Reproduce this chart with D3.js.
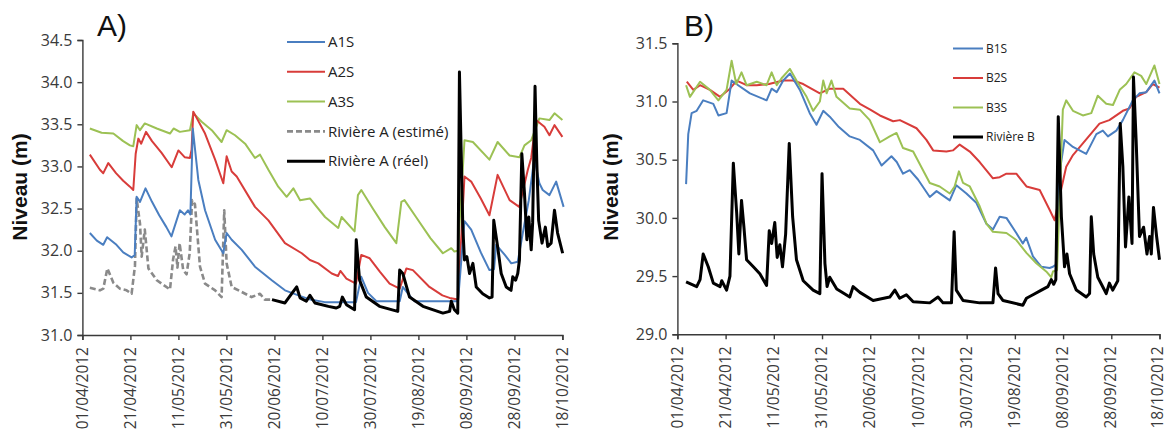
<!DOCTYPE html>
<html>
<head>
<meta charset="utf-8">
<script src="https://cdn.jsdelivr.net/npm/d3@7"></script>
<style>
  html, body { margin: 0; padding: 0; background: #fff; }
  svg { display: block; }
  .tick text { font-family: "Open Sans", sans-serif; fill: #3a3a3a; }
</style>
</head>
<body>
<svg id="chart" width="1167" height="434"></svg>
<script>
// ---------- DATA ----------
const startDate = "01/04/2012";
const tickLabels = ["01/04/2012","21/04/2012","11/05/2012","31/05/2012","20/06/2012",
  "10/07/2012","30/07/2012","19/08/2012","08/09/2012","28/09/2012","18/10/2012"];
const yTicksA = [31.0, 31.5, 32.0, 32.5, 33.0, 33.5, 34.0, 34.5];
const yTicksB = [29.0, 29.5, 30.0, 30.5, 31.0, 31.5];

// series values as [day since 01/04/2012, level (m)]
const A1S = [[3.1,32.21],[6,32.12],[8.7,32.07],[10.3,32.16],[14.2,32.07],[17,31.98],[20.5,31.92],[21.8,31.95],[22.6,32.64],[24,32.58],[26.3,32.74],[29,32.58],[32,32.42],[35,32.28],[37.1,32.17],[40.6,32.48],[42.6,32.43],[44,32.48],[45,32.43],[46,33.45],[48.3,32.84],[51.1,32.48],[55.3,32.13],[58.7,31.97],[60.1,32.21],[62.2,32.13],[66.4,32.01],[71.9,31.81],[78.9,31.65],[84.4,31.53],[90,31.47],[95,31.42],[101,31.39],[114,31.39],[116.2,31.69],[119,31.5],[122.5,31.4],[132.2,31.4],[133.5,31.57],[136,31.48],[138.4,31.4],[156.5,31.4],[159.2,32.35],[162,32.25],[166,31.98],[169.6,31.77],[171.5,31.78],[172.4,32.07],[176,31.95],[178.7,31.85],[181.4,31.87],[183.5,32.21],[186,32.6],[188.3,33.1],[190.4,32.8],[191.8,32.72],[194.6,32.66],[197.4,32.82],[200.5,32.52]];
const A2S = [[3.1,33.14],[7.3,32.96],[8.7,32.92],[10.8,33.04],[14,32.92],[17,32.83],[19.8,32.76],[21.2,32.72],[22.2,33.15],[23.3,33.33],[24.5,33.27],[26.5,33.41],[29,33.3],[33,33.16],[37.2,32.99],[40,33.19],[42.6,33.11],[44.8,33.1],[45.5,33.2],[46.2,33.65],[51.1,33.39],[55.3,33.08],[58.7,32.8],[60.1,33.12],[62.2,32.94],[64.3,32.88],[71.9,32.52],[77.5,32.36],[84.4,32.09],[91.4,31.97],[94.8,31.89],[98.3,31.85],[103.9,31.73],[106.5,31.7],[107.5,31.76],[110,31.67],[114,31.61],[116.2,31.95],[119.7,31.91],[124,31.75],[128,31.61],[132.2,31.55],[135,31.79],[137.7,31.77],[144.6,31.57],[150,31.47],[153,31.44],[156.5,31.42],[159.2,32.88],[162,32.82],[166,32.62],[169.6,32.42],[173,32.9],[178,32.6],[182,32.52],[185.6,32.96],[187,33.1],[189,33.55],[192.5,33.47],[194.6,33.37],[196.7,33.49],[200,33.35]];
const A3S = [[3.1,33.45],[8,33.4],[12.9,33.39],[17,33.3],[19.8,33.25],[21.2,33.24],[22.6,33.49],[24,33.43],[26,33.51],[31,33.45],[36.5,33.39],[38,33.45],[40.6,33.41],[44.8,33.43],[46.2,33.63],[49.7,33.53],[53.9,33.43],[58,33.29],[60.1,33.43],[63.6,33.37],[67.8,33.27],[71.9,33.1],[74,33.14],[77.5,32.96],[81.6,32.76],[85.1,32.64],[87.9,32.74],[90.7,32.6],[94.8,32.62],[101.1,32.4],[106.6,32.27],[108,32.4],[113.4,32.23],[114.8,32.66],[116.2,32.72],[121,32.5],[126,32.28],[130.8,32.09],[132.9,32.58],[134.2,32.6],[139,32.4],[145,32.15],[150.2,31.97],[153.7,32.03],[155,31.99],[156.5,32.0],[159.2,33.31],[162.7,33.29],[169.6,33.08],[173,33.29],[178,33.13],[182.1,33.11],[184.2,33.25],[187,33.31],[190.4,33.57],[194.6,33.55],[196.7,33.63],[200,33.55]];
const riviereAEstime = [[3.1,31.56],[7.3,31.53],[8.7,31.55],[10.4,31.79],[12.9,31.62],[15.6,31.55],[18.4,31.53],[20.5,31.49],[21.9,31.82],[22.6,32.62],[24,32.32],[24.7,31.93],[26,32.25],[27.5,31.79],[31,31.65],[36.5,31.54],[37.8,31.9],[38.8,32.05],[39.6,31.8],[40.5,32.09],[42,31.77],[43.4,31.72],[44.7,31.97],[45.7,32.6],[46.9,32.55],[49,31.81],[51.1,31.61],[55.3,31.53],[58,31.45],[59.1,32.48],[60.1,31.85],[62.2,31.57],[66.4,31.51],[70.5,31.45],[74,31.49],[76,31.42],[79,31.42]];
const riviereAReel = [[79,31.42],[84.4,31.38],[87.2,31.49],[89.3,31.57],[90.7,31.44],[93.3,31.4],[94.8,31.47],[96.9,31.38],[102.5,31.34],[105.8,31.32],[107.2,31.34],[108.3,31.45],[110,31.36],[113.4,31.3],[114.1,32.13],[115.5,31.65],[118.3,31.45],[123.8,31.34],[131.4,31.28],[132.2,31.77],[133.5,31.73],[136.3,31.45],[141.9,31.34],[150.2,31.26],[153,31.28],[153.7,31.4],[155,31.3],[156.4,31.26],[157.1,34.12],[158.5,32.28],[159.2,31.89],[160.2,31.93],[161.3,31.73],[162.7,31.85],[164.1,31.57],[166.8,31.49],[169.6,31.44],[170.7,31.45],[171.4,32.36],[173,32.05],[174.5,31.73],[176.6,31.57],[178.6,31.53],[179.3,31.69],[180.5,31.65],[181.4,31.73],[182.1,31.89],[183.1,33.15],[184.2,32.68],[185.2,32.13],[186,32.4],[187,32.01],[187.6,32.33],[188.6,33.95],[189.3,33.08],[190.1,32.36],[191.5,32.09],[192.9,32.28],[193.9,32.05],[195.3,32.09],[196.7,32.48],[198,32.21],[200.1,31.97]];

const B1S = [[3.6,30.29],[4.5,30.72],[5.9,30.9],[8,30.92],[10.7,31.01],[14.9,30.98],[17,30.88],[20.4,30.9],[22.5,31.18],[25.2,31.14],[30.1,31.07],[37,31.01],[39.1,31.11],[41.2,31.08],[43.9,31.18],[46.7,31.24],[50.8,31.1],[54.9,30.9],[57.7,30.8],[60.5,30.92],[63.2,30.87],[67,30.78],[71.5,30.7],[75.7,30.67],[81.2,30.58],[84.7,30.45],[88.8,30.53],[91,30.48],[93.6,30.38],[96.4,30.41],[99.8,30.33],[104.7,30.18],[107.5,30.23],[113,30.15],[115.7,30.28],[119.9,30.21],[124,30.13],[128.2,29.95],[130.9,29.9],[133.7,30.01],[136.5,30.0],[140.6,29.87],[143.3,29.78],[144.7,29.83],[147.5,29.67],[151,29.58],[154.4,29.57],[155.8,29.58],[157,29.6],[158.5,30.38],[160.6,30.67],[164.1,30.61],[169.6,30.55],[173.8,30.72],[176.5,30.75],[178.6,30.7],[182.1,30.75],[184.8,30.84],[188.9,31.01],[191.7,31.07],[194.5,31.08],[197.9,31.18],[200,31.07]];
const B2S = [[3.9,31.17],[6.6,31.1],[9.4,31.14],[13.5,31.1],[17.7,31.04],[21.8,31.11],[24.6,31.18],[28.7,31.14],[32.9,31.14],[38,31.15],[43.9,31.18],[48,31.18],[52.2,31.15],[59.1,31.07],[63.2,31.11],[68.8,31.11],[75.7,30.98],[80,30.93],[84,30.88],[89.5,30.83],[92.3,30.84],[99.2,30.77],[103.3,30.67],[106.1,30.58],[111.6,30.57],[114.3,30.58],[117.1,30.63],[121.3,30.57],[125.4,30.48],[130.9,30.34],[133.7,30.35],[136.5,30.38],[140.6,30.38],[144.8,30.27],[150.3,30.24],[154.4,30.07],[156.5,29.98],[158.5,30.18],[161.3,30.44],[164.1,30.54],[168.2,30.64],[175.1,30.81],[179.2,30.84],[184.8,30.92],[187.5,30.94],[190.3,31.04],[194.5,31.08],[197.2,31.15],[200,31.12]];
const B3S = [[3.6,31.14],[5.2,31.04],[9.4,31.17],[13.5,31.1],[17,31.01],[20.4,31.1],[22.5,31.35],[24.4,31.15],[26.6,31.25],[28.7,31.14],[32.9,31.17],[37,31.14],[39.1,31.25],[41.2,31.14],[43.2,31.2],[46.7,31.28],[49.4,31.18],[53.6,31.04],[56.3,30.92],[59.1,31.0],[60.5,31.18],[61.9,31.07],[63.9,31.18],[66,31.04],[71.5,30.94],[75.7,30.93],[79.8,30.84],[84,30.65],[88.1,30.7],[90.9,30.73],[93.6,30.6],[97.8,30.57],[101.9,30.41],[104.7,30.3],[108.8,30.27],[113,30.21],[115,30.27],[116.8,30.4],[118.5,30.3],[121.3,30.27],[125.4,30.1],[128.2,29.95],[130.9,29.88],[136.5,29.87],[140.6,29.81],[144.8,29.7],[148.9,29.61],[153,29.54],[155.1,29.49],[155.8,29.54],[157.5,29.55],[159.9,30.93],[161.3,31.01],[164.1,30.92],[168.2,30.88],[171.7,30.9],[174.4,31.05],[177.9,30.98],[180.7,30.97],[183.5,31.1],[186.2,31.15],[189.6,31.25],[192.4,31.22],[194.5,31.15],[197.9,31.31],[200,31.15]];
const riviereB = [[3.6,29.45],[8,29.41],[9.4,29.47],[10.7,29.69],[12.8,29.58],[14.9,29.44],[17.7,29.41],[18.4,29.46],[20.4,29.38],[21.8,29.5],[23.2,30.47],[24.6,30.04],[25.5,29.69],[26.6,30.15],[27.6,29.92],[28.7,29.64],[31.5,29.58],[34.2,29.52],[37,29.42],[38.1,29.89],[39.1,29.78],[40.4,29.96],[41.4,29.66],[42.5,29.77],[43.6,29.58],[44.9,29.86],[46.4,30.64],[47.8,30.01],[49.4,29.64],[52.2,29.46],[56.3,29.38],[59.1,29.35],[60,30.38],[61.2,29.61],[62.1,29.41],[63.2,29.49],[66.1,29.39],[71.5,29.32],[72.9,29.41],[75.7,29.36],[81.2,29.29],[88.1,29.32],[90.2,29.38],[92.2,29.31],[95,29.34],[97.8,29.28],[104.7,29.27],[108.1,29.32],[110.2,29.27],[113.7,29.27],[114.8,29.88],[115.7,29.38],[118.5,29.29],[125.4,29.27],[130.9,29.27],[132,29.57],[133,29.35],[135.1,29.29],[143.3,29.25],[144.8,29.31],[147.5,29.34],[151,29.38],[153.7,29.41],[155.1,29.47],[156.1,29.43],[157,29.47],[158,30.87],[159.3,30.01],[160.6,29.58],[161.6,29.69],[162.7,29.52],[165.5,29.38],[169.6,29.32],[171,29.35],[171.7,30.01],[172.7,29.69],[174.4,29.49],[177.9,29.35],[179.2,29.44],[180.6,29.38],[182.7,29.46],[183.7,30.81],[184.8,30.44],[185.9,29.75],[187.3,30.18],[188.6,29.78],[189.2,31.21],[190.3,30.67],[191.7,29.84],[193.4,29.92],[194.8,29.69],[195.9,29.84],[196.6,29.69],[197.5,30.09],[198.8,29.84],[200,29.64]];

const legendA = ["A1S","A2S","A3S","Rivière A (estimé)","Rivière A (réel)"];
const legendB = ["B1S","B2S","B3S","Rivière B"];

// ---------- STYLE ----------
const BLUE = "#4a7ec0", RED = "#d83c3a", GREEN = "#9cc154", GREY = "#8a8a8a", BLACK = "#000";

const parse = d3.utcParse("%d/%m/%Y");
const t0 = parse(startDate);
const toDate = d => new Date(t0.getTime() + d * 864e5);
const tickDates = tickLabels.map(parse);
const fmt = d3.utcFormat("%d/%m/%Y");

const svg = d3.select("#chart");

function panel(cfg) {
  const x = d3.scaleUtc().domain([tickDates[0], tickDates[tickDates.length - 1]]).range(cfg.xr);
  const y = d3.scaleLinear().domain(cfg.yd).range(cfg.yr);
  const g = svg.append("g");

  const ya = g.append("g").attr("transform", `translate(${cfg.xr[0]},0)`)
    .call(d3.axisLeft(y).tickValues(cfg.yTicks).tickFormat(d3.format(".1f")).tickSizeOuter(0).tickSize(5).tickPadding(5));
  ya.selectAll("text").style("font-size", "16px");
  const xa = g.append("g").attr("transform", `translate(0,${cfg.yr[0]})`)
    .call(d3.axisBottom(x).tickValues(tickDates).tickFormat(fmt).tickSizeOuter(0).tickSize(5));
  const n = tickDates.length;
  xa.selectAll("text").style("font-size", "15.5px")
    .attr("transform", "rotate(-90)").attr("x", -12).attr("y", 0)
    .attr("dy", (d, i) => (cfg.lastTight && i === n - 1) ? "0.18em" : "0.3em")
    .style("text-anchor", "end");
  g.selectAll(".domain, .tick line").attr("stroke", "#3a3a3a").attr("stroke-width", 1.4);

  const line = d3.line().x(d => x(toDate(d[0]))).y(d => y(d[1]));
  cfg.series.forEach(s => {
    g.append("path").datum(s.data).attr("d", line)
      .attr("fill", "none").attr("stroke", s.color).attr("stroke-width", s.w)
      .attr("stroke-dasharray", s.dash || null).attr("stroke-linejoin", "round");
  });

  g.append("text").attr("transform", `translate(${cfg.labelX},187) rotate(-90)`)
    .attr("text-anchor", "middle").style("font-family", "'Liberation Sans', Arial, sans-serif")
    .style("font-weight", "bold").style("font-size", "21px").attr("fill", "#111").text("Niveau (m)");
  g.append("text").attr("x", cfg.titleX).attr("y", 36)
    .style("font-family", "'Liberation Sans', Arial, sans-serif").style("font-size", "30px")
    .attr("fill", "#111").text(cfg.title);

  const lg = g.append("g");
  cfg.series.slice().sort((a, b) => a.li - b.li).forEach((s, i) => {
    const yy = cfg.leg.y0 + i * cfg.leg.dy;
    lg.append("line").attr("x1", cfg.leg.x0).attr("x2", cfg.leg.x1).attr("y1", yy).attr("y2", yy)
      .attr("stroke", s.color).attr("stroke-width", s.w).attr("stroke-dasharray", s.dash || null);
    lg.append("text").attr("x", cfg.leg.x1 + 3).attr("y", yy).attr("dy", "0.35em")
      .style("font-family", "'Open Sans', sans-serif").style("font-size", cfg.leg.fs)
      .attr("fill", "#222").text(s.name);
  });
}

panel({
  xr: [82.4, 562.4], yd: [31, 34.5], yr: [335, 40], yTicks: yTicksA,
  labelX: 27, title: "A)", titleX: 97,
  leg: { x0: 287, x1: 325, y0: 42, dy: 29.8, fs: "15px" },
  series: [
    { name: legendA[3], data: riviereAEstime, color: GREY, w: 2.6, dash: "6,3", li: 3 },
    { name: legendA[2], data: A3S, color: GREEN, w: 2, li: 2 },
    { name: legendA[1], data: A2S, color: RED, w: 2, li: 1 },
    { name: legendA[0], data: A1S, color: BLUE, w: 2, li: 0 },
    { name: legendA[4], data: riviereAReel, color: BLACK, w: 3, li: 4 }
  ]
});

panel({
  xr: [677.4, 1159.5], yd: [29, 31.5], yr: [334.3, 43.3], yTicks: yTicksB,
  labelX: 618, title: "B)", titleX: 684, lastTight: true,
  leg: { x0: 953, x1: 983, y0: 48.5, dy: 29.5, fs: "12px" },
  series: [
    { name: legendB[1], data: B2S, color: RED, w: 2, li: 1 },
    { name: legendB[0], data: B1S, color: BLUE, w: 2, li: 0 },
    { name: legendB[2], data: B3S, color: GREEN, w: 2, li: 2 },
    { name: legendB[3], data: riviereB, color: BLACK, w: 3, li: 3 }
  ]
});
</script>
</body>
</html>
